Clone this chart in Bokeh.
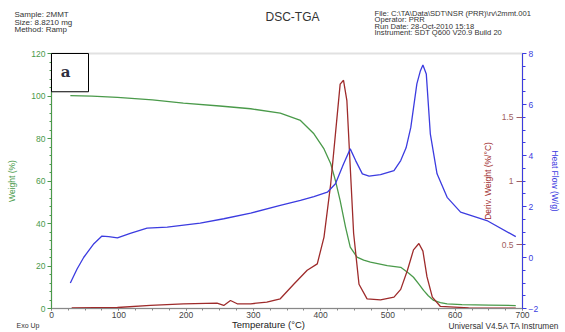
from bokeh.plotting import figure
from bokeh.models import (Range1d, LinearAxis, SingleIntervalTicker, FixedTicker,
                          BoxAnnotation, Label)
from bokeh.embed import file_html
from bokeh.resources import INLINE

# ---- data ----
temp_w = [28, 60, 98, 150, 196, 250, 296, 340, 370, 390, 405, 415, 422, 429, 437, 444,
          454, 464, 474, 499, 519, 531, 538, 546, 553, 560, 568, 578, 588, 610, 650, 690]
weight = [100.2, 99.9, 99.4, 98.2, 96.6, 95.3, 94.0, 91.9, 88.5, 82.2, 75.1, 68.1, 60.2,
          50.8, 38.3, 28.9, 24.2, 22.8, 21.8, 20.2, 19.4, 16.6, 14.7, 11.5, 8.5, 6.0, 3.8,
          2.8, 2.2, 1.8, 1.6, 1.4]

temp_h = [28, 38, 48, 63, 75, 85, 98, 117, 142, 172, 221, 256, 296, 340, 370, 390, 410,
          422, 434, 444, 452, 462, 472, 489, 509, 519, 527, 534, 543, 548, 552, 557, 563,
          573, 588, 608, 647, 690]
heat = [-1.0, -0.45, 0.01, 0.54, 0.84, 0.82, 0.77, 0.95, 1.15, 1.19, 1.35, 1.52, 1.74,
        2.04, 2.24, 2.39, 2.56, 2.89, 3.67, 4.26, 3.80, 3.28, 3.19, 3.25, 3.41, 3.80, 4.3,
        5.1, 6.81, 7.3, 7.55, 7.20, 4.85, 3.28, 2.36, 1.78, 1.45, 0.82]

temp_d = [30, 98, 147, 196, 246, 256, 266, 276, 296, 320, 340, 360, 380, 395, 405, 415,
          422, 429, 434, 439, 444, 449, 457, 469, 489, 509, 519, 529, 538, 546, 552, 558,
          566, 578, 620, 690]
deriv = [0.005, 0.008, 0.024, 0.037, 0.042, 0.024, 0.063, 0.037, 0.037, 0.05, 0.076, 0.19,
         0.30, 0.35, 0.56, 0.98, 1.37, 1.76, 1.79, 1.63, 1.11, 0.59, 0.19, 0.076, 0.068,
         0.089, 0.15, 0.30, 0.46, 0.51, 0.45, 0.25, 0.089, 0.016, 0.005, 0.003]

x_limits = (0, 700)
weight_limits = (0, 120)
heat_limits = (-2, 8)
deriv_limits = (0, 2.0)
deriv_ticks = [0.5, 1.0, 1.5]
header_left = ["Sample: 2MMT", "Size:  8.8210 mg", "Method: Ramp"]
header_right = ["File: C:\\TA\\Data\\SDT\\NSR (PRR)\\rv\\2mmt.001", "Operator: PRR",
                "Run Date: 28-Oct-2010 15:18", "Instrument: SDT Q600 V20.9 Build 20"]

GREEN = "#4a9a4a"
RED = "#9e2b2b"
BLUE = "#3c3ce0"
FONT = "Liberation Sans"

# ---- layout: the whole canvas is the frame; the data box sits inside it ----
W, H = 565, 332
FL, FR, FT, FB = 51, 522, 53, 308          # data box edges in canvas pixels
sx = (FR - FL) / (x_limits[1] - x_limits[0])
def yrange(lim):
    s = (FB - FT) / (lim[1] - lim[0])
    return Range1d(lim[0] - (H - FB) / s, lim[1] + FT / s)

x_range = Range1d(x_limits[0] - FL / sx, x_limits[1] + (W - FR) / sx)
p = figure(width=W, height=H, output_backend="svg", toolbar_location=None,
           x_range=x_range, y_range=yrange(weight_limits),
           x_axis_location=None, y_axis_location=None,
           min_border=0, min_border_left=0, min_border_right=0,
           min_border_top=0, min_border_bottom=0)
p.extra_y_ranges = {"heat": yrange(heat_limits), "deriv": yrange(deriv_limits)}
p.grid.visible = False
p.outline_line_color = None
p.background_fill_color = "white"
p.border_fill_color = "white"

def style(ax, color, label_color, tick_out, minor_out, standoff):
    ax.axis_line_color = color
    ax.major_tick_line_color = color
    ax.minor_tick_line_color = color
    ax.major_tick_in = 0
    ax.major_tick_out = tick_out
    ax.minor_tick_in = 0
    ax.minor_tick_out = minor_out
    ax.major_label_standoff = standoff
    ax.major_label_text_font = FONT
    ax.major_label_text_font_size = "8.5px"
    ax.major_label_text_color = label_color
    ax.axis_label_text_font = FONT
    ax.axis_label_text_font_style = "normal"
    ax.axis_label_text_font_size = "8.5px"

# frame border (top edge visible in gray)
p.add_layout(BoxAnnotation(left=x_limits[0], right=x_limits[1], bottom=weight_limits[0],
                           top=weight_limits[1], fill_alpha=0, line_color="#9a9a9a",
                           line_width=2, level="underlay"))

# x axis
xa = LinearAxis(fixed_location=weight_limits[0], bounds=x_limits,
                ticker=SingleIntervalTicker(interval=100, num_minor_ticks=4))
style(xa, "#888888", "#444444", 2, 2, 1)
p.add_layout(xa, "below")

# weight axis
ya = LinearAxis(fixed_location=x_limits[0], bounds=weight_limits,
                ticker=SingleIntervalTicker(interval=20, num_minor_ticks=5))
style(ya, GREEN, GREEN, 4, 2, 2)
ya.axis_label = "Weight (%)"
ya.axis_label_text_color = GREEN
ya.axis_label_standoff = 11
p.add_layout(ya, "left")

# derivative weight axis, at the right edge with labels inside
da = LinearAxis(y_range_name="deriv", fixed_location=x_limits[1], bounds=deriv_limits,
                ticker=FixedTicker(ticks=deriv_ticks))
style(da, "#a06060", "#a06060", 6, 0, 3)
da.axis_line_color = None
da.axis_label = "Deriv. Weight (%/°C)"
da.axis_label_text_color = RED
da.axis_label_standoff = 6
p.add_layout(da, "left")

# heat flow axis
ha = LinearAxis(y_range_name="heat", fixed_location=x_limits[1], bounds=heat_limits,
                ticker=SingleIntervalTicker(interval=2, num_minor_ticks=4))
style(ha, BLUE, BLUE, 4, 3, 2)
ha.axis_label = "Heat Flow (W/g)"
ha.axis_label_text_color = BLUE
ha.axis_label_standoff = 9
p.add_layout(ha, "right")

# curves
p.line(temp_w, weight, line_color=GREEN, line_width=1.3)
p.line(temp_d, deriv, line_color=RED, line_width=1.3, y_range_name="deriv")
p.line(temp_h, heat, line_color=BLUE, line_width=1.3, y_range_name="heat")

# "a" panel label
p.add_layout(BoxAnnotation(left=0, right=55, top=120, bottom=102, fill_color="white",
                           fill_alpha=1.0, line_color="black", line_width=1, line_alpha=1.0))

sy = (FB - FT) / (weight_limits[1] - weight_limits[0])
def add_text(txt, px, py, size, color="#333333", align="left", font=FONT, style_="normal"):
    p.add_layout(Label(x=x_limits[0] + (px - FL) / sx, y=weight_limits[0] + (FB - py) / sy,
                       text=txt, text_font=font, text_font_size=size, text_color=color,
                       text_align=align, text_baseline="middle", text_font_style=style_))

add_text("a", 65, 71, "15px", color="#2f3040", align="center", font="DejaVu Serif",
         style_="bold")
for i, t in enumerate(header_left):
    add_text(t, 14, 14 + 7.5 * i, "8px")
for i, t in enumerate(header_right):
    add_text(t, 374, 13 + 6.4 * i, "7.6px")
add_text("DSC-TGA", 292, 16, "12px", align="center")
add_text("Temperature (°C)", 268, 324, "9.5px", color="#222222", align="center")
add_text("Exo Up", 16, 325, "7px")
add_text("Universal V4.5A TA Instrumen", 448, 325, "8.3px")

open("out.html", "w").write(file_html(p, INLINE))
